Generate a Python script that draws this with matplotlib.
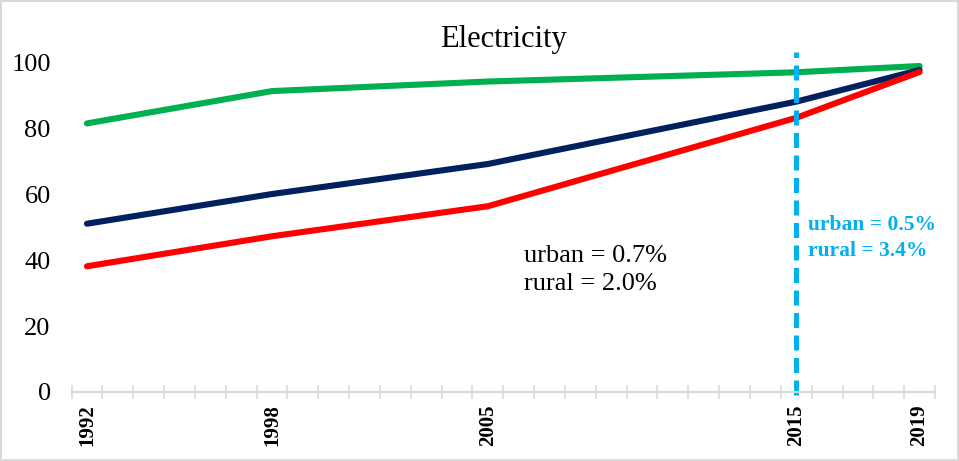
import matplotlib.pyplot as plt
import numpy as np

# Data
years = [1992, 1998, 2005, 2015, 2019]
urban = [81.4, 91.2, 94.1, 96.9, 98.8]
total = [51.0, 60.0, 69.1, 88.0, 97.6]
rural = [38.1, 47.2, 56.3, 83.1, 97.0]
tick_years = [1992, 1998, 2005, 2015, 2019]
first_year, last_year = 1992, 2019

plt.rcParams['font.family'] = ['Liberation Serif', 'DejaVu Serif']

fig = plt.figure(figsize=(9.59, 4.61), dpi=100)
fig.patch.set_edgecolor('#d9d9d9')
fig.patch.set_linewidth(1.5)
ax = fig.add_axes([0.0746, 0.1497, 0.9004, 0.7157])

x = [y - first_year for y in years]
ax.plot(x, urban, color='#00B050', lw=4.4, solid_capstyle='round')
ax.plot(x, total, color='#002060', lw=4.4, solid_capstyle='round')
ax.plot(x, rural, color='#FF0000', lw=4.4, solid_capstyle='round')

# marker line at 2015
xv = 2015 - first_year
ax.plot([xv, xv], [-1, 103], color='#00B0F0', lw=3.6, ls=(0, (3, 1.5)), clip_on=False)

ax.set_xlim(-0.5, last_year - first_year + 0.5)
ax.set_ylim(0, 100)

ax.set_xticks([t - first_year for t in tick_years])
ax.set_xticklabels([str(t) for t in tick_years], rotation=90, fontweight='bold', fontsize=15)
ax.set_xticks(np.arange(-0.5, last_year - first_year + 1), minor=True)
ax.tick_params(axis='x', which='major', length=0, pad=9)
ax.tick_params(axis='x', which='minor', direction='inout', length=10, color='#d9d9d9', width=1.2)

ax.set_yticks(range(0, 101, 20))
ax.tick_params(axis='y', length=0, labelsize=19, pad=15)

for side in ['top', 'right', 'left']:
    ax.spines[side].set_visible(False)
ax.spines['bottom'].set_color('#d9d9d9')
ax.spines['bottom'].set_linewidth(1.5)

ax.set_title('Electricity', fontsize=22, pad=11)

ax.text(0.524, 0.37, 'urban = 0.7%\nrural = 2.0%', transform=ax.transAxes,
        fontsize=19, linespacing=1.4, va='center')
ax.text(0.853, 0.467, 'urban = 0.5%\nrural = 3.4%', transform=ax.transAxes,
        fontsize=15.5, fontweight='bold', color='#00B0F0', linespacing=1.45, va='center')

fig.savefig('out.png', dpi=100, edgecolor=fig.get_edgecolor())
